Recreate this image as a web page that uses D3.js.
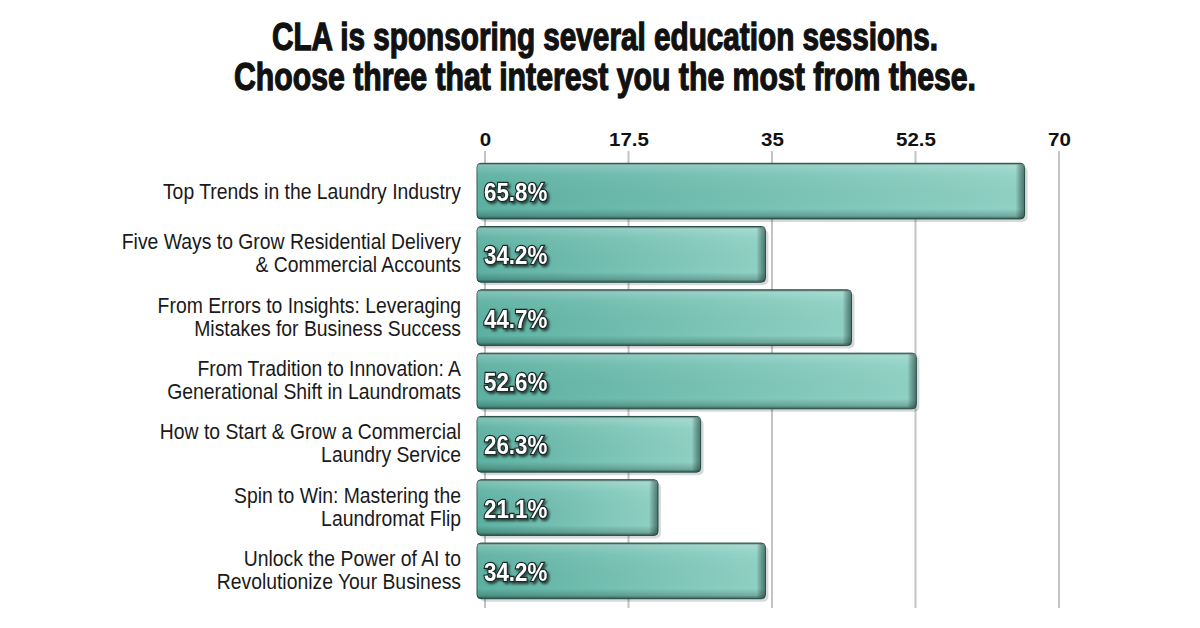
<!DOCTYPE html>
<html>
<head>
<meta charset="utf-8">
<script src="https://cdn.jsdelivr.net/npm/d3@7"></script>
<style>
  body { margin: 0; background: #fff; }
  svg { display: block; }
</style>
</head>
<body>
<div id="chart"></div>
<script>
// session names (two lines each where the picture wraps them)
const sessions = [
  ["Top Trends in the Laundry Industry"],
  ["Five Ways to Grow Residential Delivery", "& Commercial Accounts"],
  ["From Errors to Insights: Leveraging", "Mistakes for Business Success"],
  ["From Tradition to Innovation: A", "Generational Shift in Laundromats"],
  ["How to Start & Grow a Commercial", "Laundry Service"],
  ["Spin to Win: Mastering the", "Laundromat Flip"],
  ["Unlock the Power of AI to", "Revolutionize Your Business"]
];
const percents = [65.8, 34.2, 44.7, 52.6, 26.3, 21.1, 34.2];
const tickValues = [0, 17.5, 35, 52.5, 70];
const titleLines = [
  "CLA is sponsoring several education sessions.",
  "Choose three that interest you the most from these."
];

const width = 1200, height = 628;
const margin = { top: 162, right: 141, bottom: 28, left: 485 };
const narrow = "'Liberation Sans', Arial, sans-serif";

const svg = d3.select("#chart").append("svg")
  .attr("width", width)
  .attr("height", height);

const defs = svg.append("defs");

// horizontal tint: darker teal on the left, lighter toward the right
const hGrad = defs.append("linearGradient").attr("id", "barH")
  .attr("x1", 0).attr("x2", 1).attr("y1", 0).attr("y2", 0);
hGrad.append("stop").attr("offset", "0%").attr("stop-color", "#5db1a2");
hGrad.append("stop").attr("offset", "100%").attr("stop-color", "#90d2c5");

// vertical shading for the bevel look
const vGrad = defs.append("linearGradient").attr("id", "barV")
  .attr("x1", 0).attr("x2", 0).attr("y1", 0).attr("y2", 1);
vGrad.append("stop").attr("offset", "0%").attr("stop-color", "#1a423c").attr("stop-opacity", 1);
vGrad.append("stop").attr("offset", "5%").attr("stop-color", "#ffffff").attr("stop-opacity", 0.2);
vGrad.append("stop").attr("offset", "20%").attr("stop-color", "#ffffff").attr("stop-opacity", 0.05);
vGrad.append("stop").attr("offset", "82%").attr("stop-color", "#000000").attr("stop-opacity", 0.0);
vGrad.append("stop").attr("offset", "95%").attr("stop-color", "#000000").attr("stop-opacity", 0.2);
vGrad.append("stop").attr("offset", "100%").attr("stop-color", "#1a3f3a").attr("stop-opacity", 0.7);

// right end cap shading
const eGrad = defs.append("linearGradient").attr("id", "barEnd")
  .attr("x1", 0).attr("x2", 1).attr("y1", 0).attr("y2", 0);
eGrad.append("stop").attr("offset", "0%").attr("stop-color", "#000").attr("stop-opacity", 0);
eGrad.append("stop").attr("offset", "100%").attr("stop-color", "#0d2b27").attr("stop-opacity", 0.55);

const shadow = defs.append("filter").attr("id", "txtShadow")
  .attr("x", "-20%").attr("y", "-30%").attr("width", "150%").attr("height", "170%");
shadow.append("feDropShadow").attr("dx", 2).attr("dy", 2).attr("stdDeviation", 1)
  .attr("flood-color", "#000").attr("flood-opacity", 0.6);

// title
svg.append("g").selectAll("text")
  .data(titleLines)
  .join("text")
  .attr("x", 605)
  .attr("y", (d, i) => 50 + i * 40)
  .attr("text-anchor", "middle")
  .attr("textLength", (d, i) => i === 0 ? 666 : 742)
  .attr("lengthAdjust", "spacingAndGlyphs")
  .style("font-family", narrow)
  .style("font-weight", "bold")
  .style("font-size", "38px")
  .style("fill", "#111")
  .style("stroke", "#111")
  .style("stroke-width", 1.3)
  .text(d => d);

// scales
const x = d3.scaleLinear()
  .domain([0, 70])
  .range([margin.left, width - margin.right]);

const y = d3.scaleBand()
  .domain(d3.range(percents.length))
  .range([margin.top, height - margin.bottom])
  .paddingInner(0.12)
  .paddingOuter(0.02);

// gridlines
svg.append("g")
  .selectAll("line")
  .data(tickValues)
  .join("line")
  .attr("x1", d => x(d)).attr("x2", d => x(d))
  .attr("y1", 151).attr("y2", 608)
  .attr("stroke", "#c4c4c4")
  .attr("stroke-width", 2);

// top axis labels
const xAxis = d3.axisTop(x).tickValues(tickValues).tickSize(0).tickPadding(0)
  .tickFormat(d => d);
const axisG = svg.append("g")
  .attr("transform", "translate(0,146)")
  .call(xAxis);
axisG.select(".domain").remove();
axisG.selectAll("text")
  .attr("transform", "scale(1.08,1)")
  .style("font-family", narrow)
  .style("font-weight", "bold")
  .style("font-size", "19px")
  .style("fill", "#111");

// bars
const depth = 8;
const bars = svg.append("g").selectAll("g")
  .data(percents)
  .join("g")
  .attr("transform", (d, i) => `translate(0,${y(i)})`);

bars.append("rect")
  .attr("x", x(0) - depth + 3)
  .attr("y", 3)
  .attr("width", d => x(d) - x(0) + depth)
  .attr("height", y.bandwidth())
  .attr("rx", 5)
  .attr("fill", "#000")
  .attr("opacity", 0.15);

bars.append("rect")
  .attr("x", x(0) - depth)
  .attr("y", 0)
  .attr("width", d => x(d) - x(0) + depth)
  .attr("height", y.bandwidth())
  .attr("rx", 4)
  .attr("fill", "url(#barH)")
  .attr("stroke", "#2c5a53")
  .attr("stroke-width", 1);

bars.append("rect")
  .attr("x", x(0) - depth)
  .attr("y", 0)
  .attr("width", d => x(d) - x(0) + depth)
  .attr("height", y.bandwidth())
  .attr("rx", 4)
  .attr("fill", "url(#barV)");

bars.append("rect")
  .attr("x", d => x(d) - 9)
  .attr("y", 1)
  .attr("width", 9)
  .attr("height", y.bandwidth() - 2)
  .attr("rx", 4)
  .attr("fill", "url(#barEnd)");

// value labels (condensed look via horizontal scale)
bars.append("text")
  .attr("transform", `translate(${x(0) - 1},${y.bandwidth() / 2 + 10}) scale(0.86,1)`)
  .style("font-family", narrow)
  .style("font-weight", "bold")
  .style("font-size", "26px")
  .style("fill", "#fff")
  .style("stroke", "#1b2a28")
  .style("stroke-width", 2.5)
  .style("paint-order", "stroke")
  .attr("filter", "url(#txtShadow)")
  .text(d => d.toFixed(1) + "%");

// category labels
const labels = svg.append("g").selectAll("text")
  .data(sessions)
  .join("text")
  .attr("transform", (d, i) =>
    `translate(461,${y(i) + y.bandwidth() / 2 + (d.length === 1 ? 8 : -5)}) scale(0.88,1)`)
  .attr("text-anchor", "end")
  .style("font-family", narrow)
  .style("font-size", "22px")
  .style("fill", "#1a1a1a");

labels.selectAll("tspan")
  .data(d => d)
  .join("tspan")
  .attr("x", 0)
  .attr("dy", (d, i) => i === 0 ? 0 : 23)
  .text(d => d);
</script>
</body>
</html>
